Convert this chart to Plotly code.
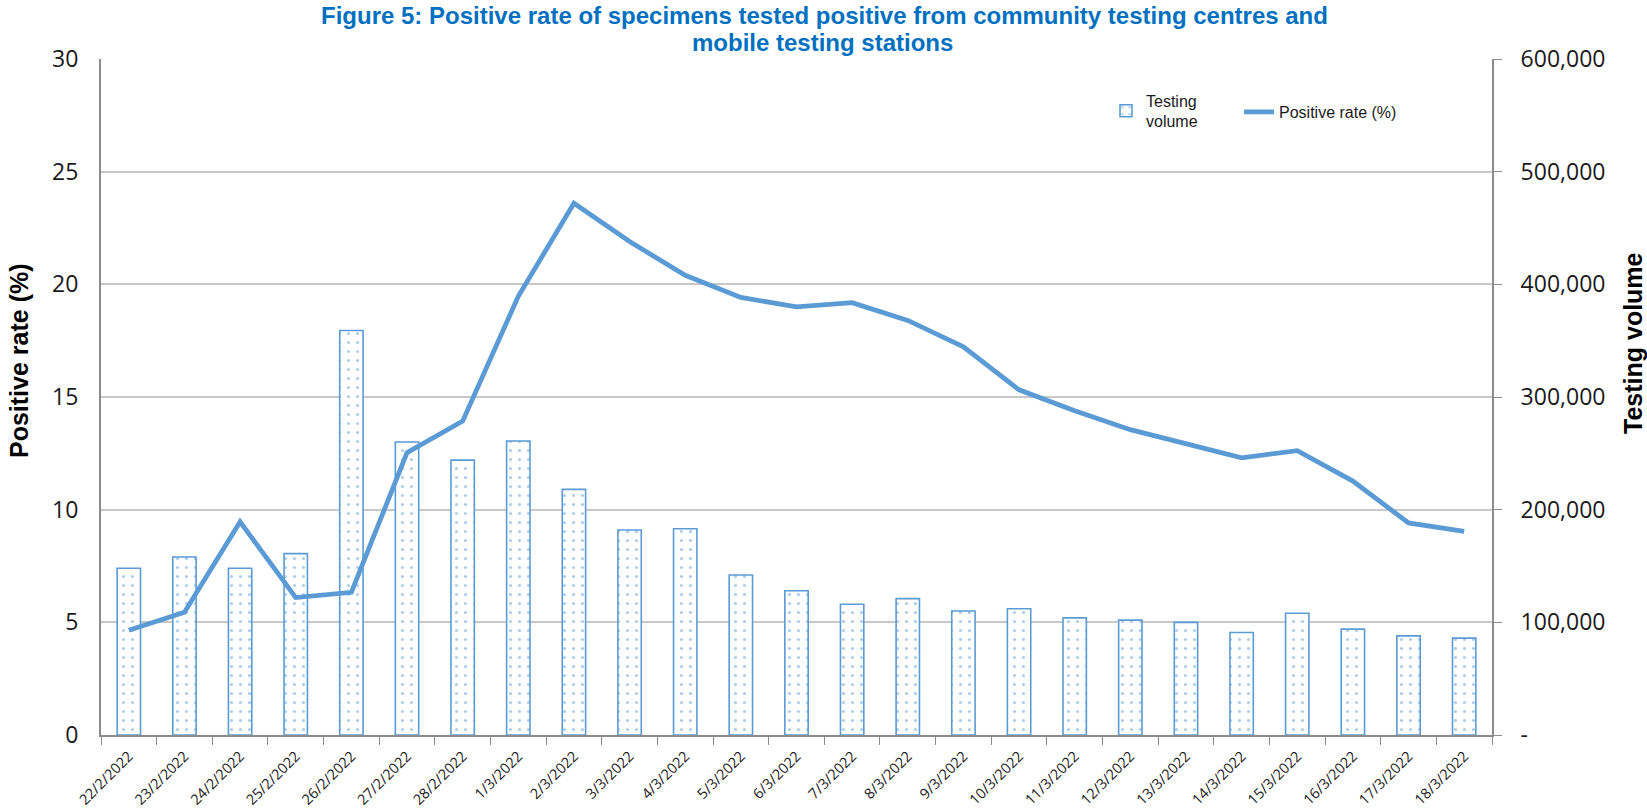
"""Figure 5: positive rate vs testing volume at community testing centres."""
import plotly.graph_objects as go

dates = [
    "22/2/2022", "23/2/2022", "24/2/2022", "25/2/2022", "26/2/2022",
    "27/2/2022", "28/2/2022", "1/3/2022", "2/3/2022", "3/3/2022",
    "4/3/2022", "5/3/2022", "6/3/2022", "7/3/2022", "8/3/2022",
    "9/3/2022", "10/3/2022", "11/3/2022", "12/3/2022", "13/3/2022",
    "14/3/2022", "15/3/2022", "16/3/2022", "17/3/2022", "18/3/2022",
]
testing_volume = [
    148000, 158000, 148000, 161000, 359000,
    260000, 244000, 261000, 218000, 182000,
    183000, 142000, 128000, 116000, 121000,
    110000, 112000, 104000, 102000, 100000,
    91000, 108000, 94000, 88000, 86000,
]
positive_rate = [
    4.65, 5.45, 9.46, 6.10, 6.33,
    12.53, 13.93, 19.47, 23.60, 21.90,
    20.40, 19.42, 19.00, 19.19, 18.40,
    17.23, 15.32, 14.39, 13.55, 12.95,
    12.30, 12.62, 11.27, 9.41, 9.04,
]
vol_ticks = [0, 100000, 200000, 300000, 400000, 500000, 600000]
vol_ticktext = ["-", "100,000", "200,000", "300,000", "400,000", "500,000", "600,000"]

W, H = 1647, 809
ML, MR, MT, MB = 101, 155, 59, 74
PW, PH = W - ML - MR, H - MT - MB

BLUE = "#5B9BD5"
AXIS = "#8C8C8C"
GRID = "#C8C8C8"
TICK_FONT = dict(family="Open Sans", size=23, color="#1a1a1a")
TITLE_FONT = dict(family="Liberation Sans", size=24, color="#0070C0")
AXTITLE_FONT = dict(family="Liberation Sans", size=25, color="black")


def px_x(x):
    return (x - ML) / PW


def px_y(y):
    return (H - MB - y) / PH


fig = go.Figure()
fig.add_trace(go.Bar(
    x=dates, y=testing_volume, name="Testing<br>volume", yaxis="y",
    width=0.42, legend="legend",
    marker=dict(
        color="white",
        line=dict(color=BLUE, width=1.6),
        pattern=dict(shape=".", fgcolor=BLUE, bgcolor="white",
                     size=9, solidity=0.1, fillmode="overlay"),
    ),
))
fig.add_trace(go.Scatter(
    x=dates, y=positive_rate, name="Positive rate (%)", yaxis="y2",
    mode="lines", line=dict(color=BLUE, width=4.8), legend="legend2",
))

legend_style = dict(
    orientation="h", xanchor="left", yanchor="middle",
    font=dict(family="Liberation Sans", size=16, color="#1a1a1a"),
    bgcolor="rgba(0,0,0,0)",
)

fig.update_layout(
    width=W, height=H,
    margin=dict(l=ML, r=MR, t=MT, b=MB, autoexpand=False),
    paper_bgcolor="white", plot_bgcolor="white",
    showlegend=True,
    legend=dict(x=px_x(1106), y=px_y(111), **legend_style),
    legend2=dict(x=px_x(1239), y=px_y(112), **legend_style),
    xaxis=dict(
        type="category", tickson="boundaries", ticks="outside", ticklen=8,
        tickcolor=AXIS, showline=True, linecolor=AXIS, linewidth=2,
        tickangle=-45, tickfont=dict(family="Open Sans", size=14.5, color="#1a1a1a"),
        ticklabelstandoff=5, showgrid=False, automargin=False,
    ),
    yaxis=dict(
        side="right", range=[0, 600000], tickvals=vol_ticks, ticktext=vol_ticktext,
        ticks="outside", ticklen=8, tickcolor=AXIS, showline=True,
        linecolor=AXIS, linewidth=2, showgrid=False, zeroline=False,
        tickfont=TICK_FONT, ticklabelstandoff=14, automargin=False,
    ),
    yaxis2=dict(
        overlaying="y", side="left", range=[0, 30], dtick=5,
        showgrid=True, gridcolor=GRID, gridwidth=1.5, ticks="",
        showline=True, linecolor=AXIS, linewidth=2, zeroline=False,
        tickfont=TICK_FONT, ticklabelstandoff=16, automargin=False,
    ),
    annotations=[
        dict(text="<b>Figure 5: Positive rate of specimens tested positive from community testing centres and</b>",
             x=px_x(824), y=px_y(16), xanchor="center", yanchor="middle",
             font=TITLE_FONT),
        dict(text="<b>mobile testing stations</b>",
             x=px_x(822), y=px_y(42), xanchor="center", yanchor="middle",
             font=TITLE_FONT),
        dict(text="<b>Positive rate (%)</b>", textangle=-90,
             x=px_x(19), y=px_y(361), xanchor="center", yanchor="middle",
             font=AXTITLE_FONT),
        dict(text="<b>Testing volume</b>", textangle=-90,
             x=px_x(1633), y=px_y(343), xanchor="center", yanchor="middle",
             font=AXTITLE_FONT),
    ],
)
for ann in fig.layout.annotations:
    ann.xref = "paper"
    ann.yref = "paper"
    ann.showarrow = False

# page body has a default 8px margin; drop it so the figure sits at 0,0
fig.write_html(
    "out.html",
    config={"displayModeBar": False},
    post_script="document.body.style.margin='0';",
)
